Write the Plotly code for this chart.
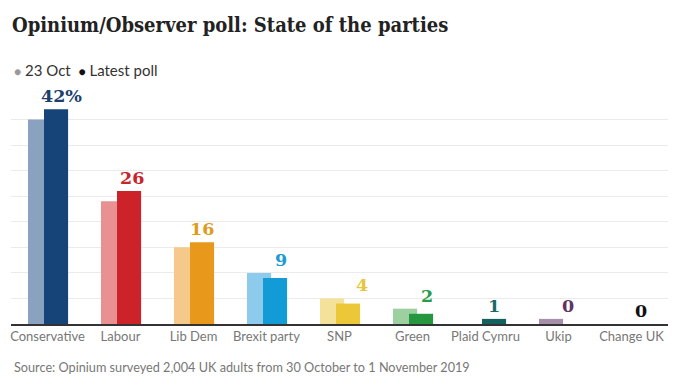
import plotly.graph_objects as go

parties = ["Conservative", "Labour", "Lib Dem", "Brexit party", "SNP", "Green",
           "Plaid Cymru", "Ukip", "Change UK"]
oct23 = [40, 24, 15, 10, 5, 3, 0, 1, 0]
latest = [42, 26, 16, 9, 4, 2, 1, 0, 0]
value_labels = ["42%", "26", "16", "9", "4", "2", "1", "0", "0"]

old_colors = ["#8aa1bf", "#e99092", "#f4c98b", "#8ccbeb", "#f4e29b", "#9dd0a1",
              "#7fb3b0", "#a78fac", "#bbbbbb"]
new_colors = ["#164478", "#cc2229", "#e8991c", "#139bd8", "#ecc737", "#27973f",
              "#14625f", "#6a2f6e", "#222222"]
label_colors = ["#1c3f6e", "#c8232b", "#e09a1c", "#1c9ad6", "#e8c53a", "#2a9a48",
                "#186b68", "#5e3463", "#111111"]
label_xshift = [14, 11, 8, 14, 22, 14, 8, 9, 9]

# page has an 8px body margin; figure is laid out in page coords minus 8
W, H = 691, 368
L, R, T, B = 3, 31, 86, 52
PW, PH = W - L - R, H - T - B

fig = go.Figure()
fig.add_trace(go.Bar(x=parties, y=oct23, marker_color=old_colors, marker_line_width=0,
                     width=0.33, offset=-0.267, name="23 Oct", hoverinfo="x+y"))
fig.add_trace(go.Bar(x=parties, y=latest, marker_color=new_colors, marker_line_width=0,
                     width=0.33, offset=-0.048, name="Latest poll", hoverinfo="x+y"))

for p, o, n, t, c, xs in zip(parties, oct23, latest, value_labels, label_colors, label_xshift):
    fig.add_annotation(x=p, y=max(o, n), text="<b>%s</b>" % t, showarrow=False,
                       xanchor="center", yanchor="bottom", xshift=xs, yshift=1,
                       font=dict(family="DejaVu Serif", size=17.5, color=c))

fig.update_layout(
    width=W, height=H,
    margin=dict(l=L, r=R, t=T, b=B),
    paper_bgcolor="white", plot_bgcolor="white",
    barmode="overlay", showlegend=False,
    title=dict(text="<b>Opinium/Observer poll: State of the parties</b>",
               x=4 / W, xanchor="left", y=1 - 17 / H, yanchor="middle",
               font=dict(family="DejaVu Serif Condensed", size=20, color="#222222")),
    xaxis=dict(showline=True, linecolor="#333333", linewidth=1.5, ticks="",
               tickfont=dict(family="Lato", size=13, color="#777777"),
               fixedrange=True),
    yaxis=dict(range=[0, 45], tickvals=[5, 10, 15, 20, 25, 30, 35, 40],
               showticklabels=False, gridcolor="#ebebeb", gridwidth=1,
               zeroline=False, fixedrange=True),
)

fig.add_annotation(xref="paper", yref="paper", x=(4 - L) / PW, y=1 + (T - 62) / PH,
                   xanchor="left", yanchor="middle", showarrow=False,
                   text="<span style='color:#999999;font-size:12px'>●</span> 23 Oct  "
                        "<span style='color:#111111;font-size:12px'>●</span> Latest poll",
                   font=dict(family="Lato", size=15, color="#333333"))
fig.add_annotation(xref="paper", yref="paper", x=(4 - L) / PW, y=-(359 - 316) / PH,
                   xanchor="left", yanchor="middle", showarrow=False,
                   text="Source: Opinium surveyed 2,004 UK adults from 30 October to 1 November 2019",
                   font=dict(family="Lato", size=12.7, color="#777777"))

fig.write_html("out.html")
